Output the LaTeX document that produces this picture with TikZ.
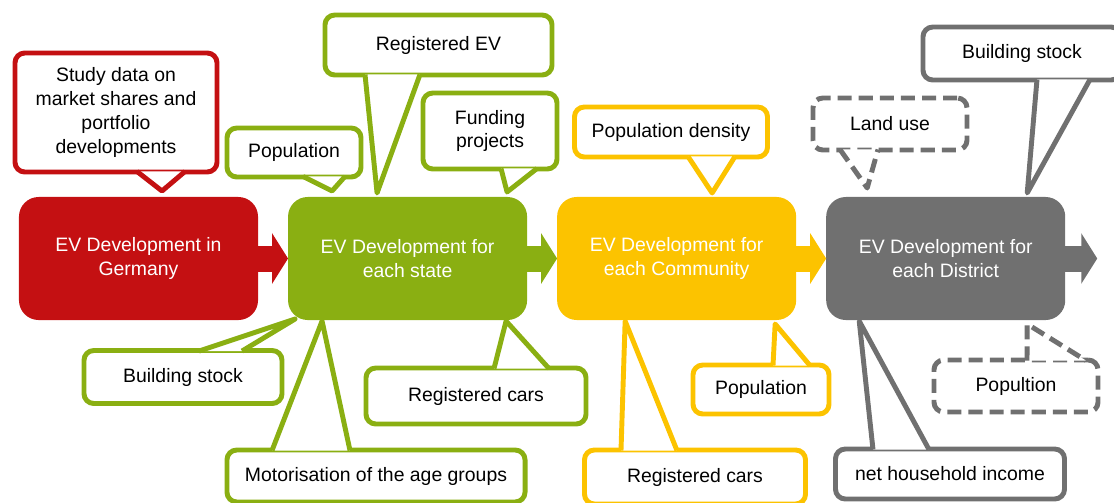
\documentclass[tikz,border=0pt]{standalone}
\usepackage{fontspec}
\setmainfont{Liberation Sans}
\usetikzlibrary{arrows.meta, positioning, calc}
\definecolor{evred}{HTML}{C41012}
\definecolor{evgreen}{HTML}{8AAF12}
\definecolor{evyellow}{HTML}{FCC300}
\definecolor{evgray}{HTML}{707070}
\newcommand{\evfont}{\fontsize{13.8}{17}\selectfont}

\begin{document}
\begin{tikzpicture}[
    x=0.025cm, y=-0.025cm,
    node distance=0.75cm,
    stage/.style={rectangle, rounded corners=14pt, minimum width=5.975cm, minimum height=3.075cm,
                  align=center, text=white, font=\evfont, outer sep=0pt},
    note/.style={rectangle, rounded corners=7pt, draw, fill=white, line width=3.5pt,
                 align=center, font=\evfont, inner sep=2pt},
    tail/.style={fill=white, line width=3.5pt, line join=round},
    loose/.style={dash pattern=on 10pt off 5pt},
    flow/.style={line width=0.65cm, -{Triangle[length=0.4cm, width=1.25cm]}}
  ]
  \useasboundingbox (0,0) rectangle (1114,502);

  % stages
  \node[stage, fill=evred] (ger) at (138.5,258.5) {EV Development in\\Germany};
  \node[stage, fill=evgreen, right=of ger] (state) {EV Development for\\each state};
  \node[stage, fill=evyellow, right=of state] (com) {EV Development for\\each Community};
  \node[stage, fill=evgray, right=of com] (dis) {EV Development for\\each District};
  \coordinate (out) at ([xshift=0.8cm]dis.east);
  \draw[flow, evred] (ger) -- (state);
  \draw[flow, evgreen] (state) -- (com);
  \draw[flow, evyellow] (com) -- (dis);
  \draw[flow, evgray] (dis) -- (out);

  % Germany
  \node[note, draw=evred, minimum width=5.05cm, minimum height=2.975cm] (study) at (116,112.5)
    {Study data on\\market shares and\\portfolio\\developments};
  \filldraw[tail, draw=evred] ($(study.south)+(21,-3)$) -- ($(ger.north)+(23.5,-6)$) -- ($(study.south)+(69,-3)$);

  % state
  \node[note, draw=evgreen, minimum width=3.35cm, minimum height=1.225cm] (popL) at (294,152.5) {Population};
  \filldraw[tail, draw=evgreen] ($(popL.south)+(9,-3)$) -- ($(state.north)+(-75.5,-6)$) -- ($(popL.south)+(51,-3)$);
  \node[note, draw=evgreen, minimum width=5.675cm, minimum height=1.5cm] (regev) at (438.5,45) {Registered EV};
  \filldraw[tail, draw=evgreen] ($(regev.south)+(-73.5,-3)$) -- ($(state.north)+(-30.5,-4)$) -- ($(regev.south)+(-18.5,-3)$);
  \node[note, draw=evgreen, minimum width=3.35cm, minimum height=1.9cm] (fund) at (490,131) {Funding\\projects};
  \filldraw[tail, draw=evgreen] ($(fund.south)+(11,-3)$) -- ($(state.north)+(99.5,-5)$) -- ($(fund.south)+(47,-3)$);
  \node[note, draw=evgreen, minimum width=4.95cm, minimum height=1.325cm] (bstockL) at (183,377) {Building stock};
  \filldraw[tail, draw=evgreen] ($(bstockL.north)+(16,3)$) -- ($(state.south)+(-112.5,-1)$) -- ($(bstockL.north)+(59,3)$);
  \node[note, draw=evgreen, minimum width=7.45cm, minimum height=1.3cm] (motor) at (376,476) {Motorisation of the age groups};
  \filldraw[tail, draw=evgreen] ($(motor.north)+(-104,3)$) -- ($(state.south)+(-85.5,1)$) -- ($(motor.north)+(-26,3)$);
  \node[note, draw=evgreen, minimum width=5.5cm, minimum height=1.4cm] (regcarsG) at (476,396) {Registered cars};
  \filldraw[tail, draw=evgreen] ($(regcarsG.north)+(18,3)$) -- ($(state.south)+(98.5,1)$) -- ($(regcarsG.north)+(73,3)$);

  % community
  \node[note, draw=evyellow, minimum width=4.825cm, minimum height=1.25cm] (popden) at (671,132) {Population density};
  \filldraw[tail, draw=evyellow] ($(popden.south)+(17,-3)$) -- ($(com.north)+(35.5,-4)$) -- ($(popden.south)+(64,-3)$);
  \node[note, draw=evyellow, minimum width=5.525cm, minimum height=1.35cm] (regcarsY) at (695,477) {Registered cars};
  \filldraw[tail, draw=evyellow] ($(regcarsY.north)+(-74,3)$) -- ($(com.south)+(-51.5,1)$) -- ($(regcarsY.north)+(-18,3)$);
  \node[note, draw=evyellow, minimum width=3.4cm, minimum height=1.225cm] (popY) at (761,389.5) {Population};
  \filldraw[tail, draw=evyellow] ($(popY.north)+(12,3)$) -- ($(com.south)+(98.5,4)$) -- ($(popY.north)+(49,3)$);

  % district
  \node[note, loose, draw=evgray, minimum width=3.85cm, minimum height=1.3cm] (landuse) at (890,124) {Land use};
  \filldraw[tail, loose, draw=evgray] ($(landuse.south)+(-50,-3)$) -- ($(dis.north)+(-78.5,-9)$) -- ($(landuse.south)+(-12,-3)$);
  \node[note, draw=evgray, minimum width=4.95cm, minimum height=1.325cm] (bstockR) at (1022,53.5) {Building stock};
  \filldraw[tail, draw=evgray] ($(bstockR.south)+(15,-3)$) -- ($(dis.north)+(81.5,-4)$) -- ($(bstockR.south)+(68,-3)$);
  \node[note, draw=evgray, minimum width=5.725cm, minimum height=1.25cm] (netinc) at (950,474) {net household income};
  \filldraw[tail, draw=evgray] ($(netinc.north)+(-77,3)$) -- ($(dis.south)+(-86.5,1)$) -- ($(netinc.north)+(-21,3)$);
  \node[note, loose, draw=evgray, minimum width=4.1cm, minimum height=1.3cm] (popG) at (1016,386) {Popultion};
  \filldraw[tail, loose, draw=evgray] ($(popG.north)+(11,3)$) -- ($(dis.south)+(81.5,4)$) -- ($(popG.north)+(70,3)$);
\end{tikzpicture}
\end{document}
